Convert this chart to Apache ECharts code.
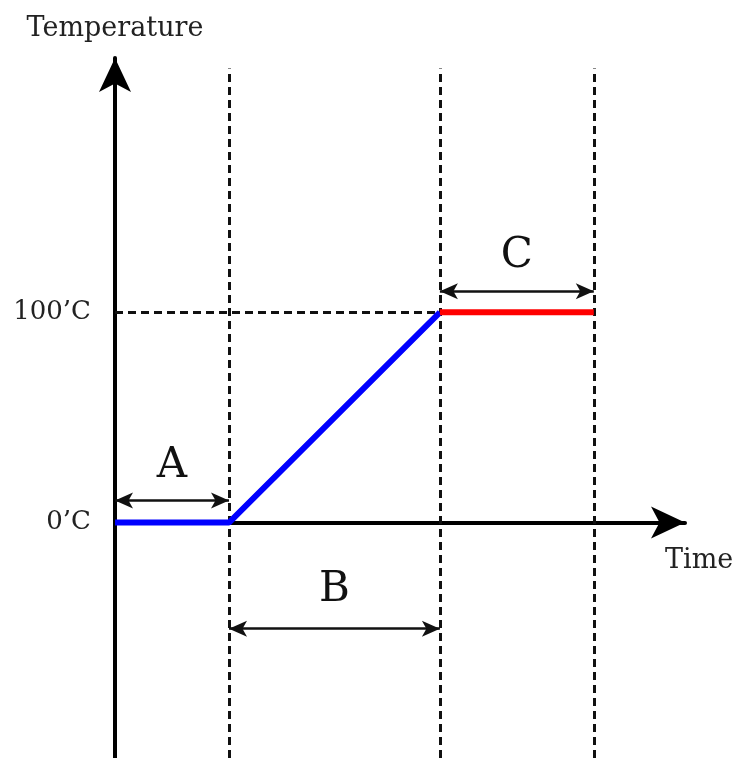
<!DOCTYPE html>
<html>
<head>
<meta charset="utf-8">
<script src="https://cdn.jsdelivr.net/npm/echarts@6/dist/echarts.min.js"></script>
<style>
  html, body { margin: 0; padding: 0; background: #fff; }
  #chart { width: 739px; height: 758px; }
</style>
</head>
<body>
<div id="chart"></div>
<script>
// time breakpoints: start, end of A, end of B, end of C
const times = [0, 1, 2.85, 4.2];
// temperatures (°C)
const tempLow = 0;
const tempHigh = 100;
const tempTicks = [0, 100];
const tickLabels = ["0’C", "100’C"];
const phaseNames = ["A", "B", "C"];

const font = "DejaVu Serif";
const yMin = -112, yMax = 221, dashTop = 216;

let myChart = echarts.init(document.getElementById("chart"));

const dashStyle = { color: "#111", width: 3, type: [8, 5] };
const dimStyle = { color: "#111", width: 2.5, type: "solid" };

let option = {
  animation: false,
  grid: { left: 115, right: 54, top: 58, bottom: 0 },
  xAxis: {
    type: "value",
    min: 0,
    max: 5,
    name: "Time",
    nameLocation: "end",
    nameGap: -20,
    nameTextStyle: { fontFamily: font, fontSize: 27, color: "#222", verticalAlign: "top", lineHeight: 76 },
    axisLine: {
      onZero: true,
      symbol: ["none", "arrow"],
      symbolSize: [24, 34],
      lineStyle: { color: "#000", width: 4 }
    },
    axisTick: { show: false },
    axisLabel: { show: false },
    splitLine: { show: false }
  },
  yAxis: {
    type: "value",
    min: yMin,
    max: yMax,
    name: "Temperature",
    nameLocation: "end",
    nameGap: 16,
    nameTextStyle: { fontFamily: font, fontSize: 27, color: "#222", align: "center" },
    axisLine: {
      onZero: true,
      symbol: ["none", "arrow"],
      symbolSize: [24, 34],
      lineStyle: { color: "#000", width: 4 }
    },
    axisTick: { show: false },
    axisLabel: {
      customValues: tempTicks,
      formatter: v => tickLabels[tempTicks.indexOf(v)],
      fontFamily: font,
      fontSize: 26,
      color: "#222",
      margin: 24
    },
    splitLine: { show: false }
  },
  series: [
    {
      // guide lines
      type: "line",
      data: [],
      silent: true,
      markLine: {
        silent: true,
        symbol: ["none", "none"],
        label: { show: false },
        lineStyle: dashStyle,
        data: [
          [{ coord: [times[1], yMin] }, { coord: [times[1], dashTop] }],
          [{ coord: [times[2], yMin] }, { coord: [times[2], dashTop] }],
          [{ coord: [times[3], yMin] }, { coord: [times[3], dashTop] }],
          [{ coord: [times[0], tempHigh] }, { coord: [times[2], tempHigh] }]
        ]
      }
    },
    {
      // dimension arrows A, B, C
      type: "line",
      data: [],
      silent: true,
      markLine: {
        silent: true,
        symbol: ["arrow", "arrow"],
        symbolSize: [12, 18],
        label: { show: false },
        lineStyle: dimStyle,
        data: [
          [{ coord: [times[0], 10.5] }, { coord: [times[1], 10.5] }],
          [{ coord: [times[1], -50.5] }, { coord: [times[2], -50.5] }],
          [{ coord: [times[2], 110] }, { coord: [times[3], 110] }]
        ]
      }
    },
    {
      type: "line",
      data: [[times[0], tempLow], [times[1], tempLow], [times[2], tempHigh]],
      symbol: "none",
      lineStyle: { color: "#0000ff", width: 6 },
      z: 5
    },
    {
      type: "line",
      data: [[times[2], tempHigh], [times[3], tempHigh]],
      symbol: "none",
      lineStyle: { color: "#ff0000", width: 6 },
      z: 5
    },
    {
      type: "scatter",
      symbolSize: 0,
      itemStyle: { opacity: 1 },
      data: [
        { name: phaseNames[0], value: [(times[0] + times[1]) / 2, 27] },
        { name: phaseNames[1], value: [(times[1] + times[2]) / 2, -32] },
        { name: phaseNames[2], value: [(times[2] + times[3]) / 2, 127] }
      ],
      label: {
        show: true,
        position: "inside",
        formatter: p => p.name,
        fontFamily: font,
        fontSize: 42,
        color: "#111",
        opacity: 1
      }
    }
  ]
};
myChart.setOption(option);
</script>
</body>
</html>
